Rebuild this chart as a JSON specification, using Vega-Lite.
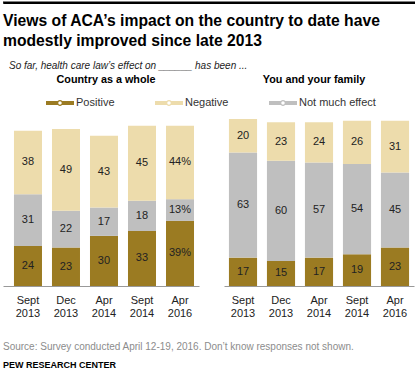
{
  "$schema": "https://vega.github.io/schema/vega-lite/v6.json",
  "padding": {"left": 2, "top": 1, "right": 0, "bottom": 0},
  "background": "white",
  "config": {"view": {"stroke": null}, "font": "Liberation Sans"},
  "datasets": {
    "d": [
      {"panel": "country", "date": "Sept 2013", "cat": "Positive", "o": 1, "value": 24, "label": "24"},
      {"panel": "country", "date": "Sept 2013", "cat": "Not much effect", "o": 2, "value": 31, "label": "31"},
      {"panel": "country", "date": "Sept 2013", "cat": "Negative", "o": 3, "value": 38, "label": "38"},
      {"panel": "country", "date": "Dec 2013", "cat": "Positive", "o": 1, "value": 23, "label": "23"},
      {"panel": "country", "date": "Dec 2013", "cat": "Not much effect", "o": 2, "value": 22, "label": "22"},
      {"panel": "country", "date": "Dec 2013", "cat": "Negative", "o": 3, "value": 49, "label": "49"},
      {"panel": "country", "date": "Apr 2014", "cat": "Positive", "o": 1, "value": 30, "label": "30"},
      {"panel": "country", "date": "Apr 2014", "cat": "Not much effect", "o": 2, "value": 17, "label": "17"},
      {"panel": "country", "date": "Apr 2014", "cat": "Negative", "o": 3, "value": 43, "label": "43"},
      {"panel": "country", "date": "Sept 2014", "cat": "Positive", "o": 1, "value": 33, "label": "33"},
      {"panel": "country", "date": "Sept 2014", "cat": "Not much effect", "o": 2, "value": 18, "label": "18"},
      {"panel": "country", "date": "Sept 2014", "cat": "Negative", "o": 3, "value": 45, "label": "45"},
      {"panel": "country", "date": "Apr 2016", "cat": "Positive", "o": 1, "value": 39, "label": "39%"},
      {"panel": "country", "date": "Apr 2016", "cat": "Not much effect", "o": 2, "value": 13, "label": "13%"},
      {"panel": "country", "date": "Apr 2016", "cat": "Negative", "o": 3, "value": 44, "label": "44%"},
      {"panel": "family", "date": "Sept 2013", "cat": "Positive", "o": 1, "value": 17, "label": "17"},
      {"panel": "family", "date": "Sept 2013", "cat": "Not much effect", "o": 2, "value": 63, "label": "63"},
      {"panel": "family", "date": "Sept 2013", "cat": "Negative", "o": 3, "value": 20, "label": "20"},
      {"panel": "family", "date": "Dec 2013", "cat": "Positive", "o": 1, "value": 15, "label": "15"},
      {"panel": "family", "date": "Dec 2013", "cat": "Not much effect", "o": 2, "value": 60, "label": "60"},
      {"panel": "family", "date": "Dec 2013", "cat": "Negative", "o": 3, "value": 23, "label": "23"},
      {"panel": "family", "date": "Apr 2014", "cat": "Positive", "o": 1, "value": 17, "label": "17"},
      {"panel": "family", "date": "Apr 2014", "cat": "Not much effect", "o": 2, "value": 57, "label": "57"},
      {"panel": "family", "date": "Apr 2014", "cat": "Negative", "o": 3, "value": 24, "label": "24"},
      {"panel": "family", "date": "Sept 2014", "cat": "Positive", "o": 1, "value": 19, "label": "19"},
      {"panel": "family", "date": "Sept 2014", "cat": "Not much effect", "o": 2, "value": 54, "label": "54"},
      {"panel": "family", "date": "Sept 2014", "cat": "Negative", "o": 3, "value": 26, "label": "26"},
      {"panel": "family", "date": "Apr 2016", "cat": "Positive", "o": 1, "value": 23, "label": "23"},
      {"panel": "family", "date": "Apr 2016", "cat": "Not much effect", "o": 2, "value": 45, "label": "45"},
      {"panel": "family", "date": "Apr 2016", "cat": "Negative", "o": 3, "value": 31, "label": "31"}
    ]
  },
  "spacing": 15,
  "vconcat": [
    {
      "spacing": 8,
      "vconcat": [
        {
          "width": 413, "height": 1,
          "view": {"stroke": "#000", "strokeWidth": 1},
          "data": {"values": [{"edge": "top"}]},
          "mark": {"type": "rule", "color": "#000", "strokeWidth": 1},
          "encoding": {
            "y": {"datum": 1, "type": "quantitative", "scale": {"domain": [0, 1]}, "axis": null}
          }
        },
        {
          "title": {
            "text": ["Views of ACA’s impact on the country to date have", "modestly improved since late 2013"],
            "anchor": "start", "fontSize": 15.7, "fontWeight": "bold", "lineHeight": 20, "color": "#000",
            "font": "Liberation Sans", "offset": 12
          },
          "vconcat": [
            {
              "title": {
                "text": "So far, health care law’s effect on ______ has been ...",
                "anchor": "start", "dx": 6, "fontSize": 10, "fontStyle": "italic", "fontWeight": "normal", "color": "#222", "offset": 3
              },
              "vconcat": [
                {
                  "title": {
                    "text": "Source: Survey conducted April 12-19, 2016. Don’t know responses not shown.",
                    "subtitle": "PEW RESEARCH CENTER",
                    "orient": "bottom", "anchor": "start",
                    "fontSize": 10, "fontWeight": "normal", "color": "#8c8c8c",
                    "subtitleFontSize": 9, "subtitleFontWeight": "bold", "subtitleColor": "#000",
                    "offset": 23.5, "subtitlePadding": 9
                  },
                  "spacing": 25,
                  "hconcat": [
                    {
                      "width": 196, "height": 167,
                      "title": {"text": "Country as a whole", "fontSize": 10.8, "fontWeight": "bold", "color": "#000", "offset": 34, "anchor": "middle", "dx": 5},
                      "data": {"name": "d"},
                      "transform": [{"filter": "datum.panel == 'country'"}],
                      "encoding": {
                        "x": {
                          "field": "date", "type": "nominal",
                          "sort": ["Sept 2013", "Dec 2013", "Apr 2014", "Sept 2014", "Apr 2016"],
                          "scale": {"paddingInner": 0.263, "paddingOuter": 0.21, "align": 0.6875},
                          "axis": {"title": null, "labelExpr": "split(datum.label, ' ')", "labelAngle": 0, "ticks": false, "tickSize": 0, "domainColor": "#999", "labelFontSize": 11, "labelColor": "#222", "labelPadding": 8, "labelLineHeight": 13.5}
                        }
                      },
                      "layer": [
                        {
                          "mark": {"type": "bar"},
                          "encoding": {
                            "y": {"field": "value", "type": "quantitative", "stack": "zero", "scale": {"domain": [0, 100], "nice": false}, "axis": null},
                            "color": {
                              "field": "cat", "type": "nominal",
                              "scale": {"domain": ["Positive", "Negative", "Not much effect"], "range": ["#9b7b22", "#eddcac", "#bfbfbf"]},
                              "legend": {"title": null, "orient": "none", "legendX": 43, "legendY": 87, "direction": "horizontal",
                                "symbolType": "M-1,-0.14L-0.15,-0.14L-0.15,0.14L-1,0.14Z M0.15,-0.14L1,-0.14L1,0.14L0.15,0.14Z M-0.21,0A0.21,0.21 0 1,1 0.21,0A0.21,0.21 0 1,1 -0.21,0Z M-0.12,0A0.12,0.12 0 1,0 0.12,0A0.12,0.12 0 1,0 -0.12,0Z",
                                "symbolSize": 784, "symbolStrokeWidth": 0, "symbolOpacity": 1, "labelFontSize": 11, "labelColor": "#333", "labelOffset": 2, "columnPadding": 40}
                            },
                            "order": {"field": "o"}
                          }
                        },
                        {
                          "mark": {"type": "text", "fontSize": 11, "color": "#222"},
                          "encoding": {
                            "y": {"field": "value", "type": "quantitative", "stack": "zero", "bandPosition": 0.5},
                            "detail": {"field": "cat"},
                            "order": {"field": "o"},
                            "text": {"field": "label"}
                          }
                        }
                      ]
                    },
                    {
                      "width": 190, "height": 167,
                      "title": {"text": "You and your family", "fontSize": 10.8, "fontWeight": "bold", "color": "#000", "offset": 34, "anchor": "middle", "dx": -5},
                      "data": {"name": "d"},
                      "transform": [{"filter": "datum.panel == 'family'"}],
                      "encoding": {
                        "x": {
                          "field": "date", "type": "nominal",
                          "sort": ["Sept 2013", "Dec 2013", "Apr 2014", "Sept 2014", "Apr 2016"],
                          "scale": {"paddingInner": 0.26, "paddingOuter": 0.13},
                          "axis": {"title": null, "labelExpr": "split(datum.label, ' ')", "labelAngle": 0, "ticks": false, "tickSize": 0, "domainColor": "#999", "labelFontSize": 11, "labelColor": "#222", "labelPadding": 8, "labelLineHeight": 13.5}
                        }
                      },
                      "layer": [
                        {
                          "mark": {"type": "bar"},
                          "encoding": {
                            "y": {"field": "value", "type": "quantitative", "stack": "zero", "scale": {"domain": [0, 100], "nice": false}, "axis": null},
                            "color": {
                              "field": "cat", "type": "nominal",
                              "scale": {"domain": ["Positive", "Negative", "Not much effect"], "range": ["#9b7b22", "#eddcac", "#bfbfbf"]},
                              "legend": {"title": null, "orient": "none", "legendX": 43, "legendY": 87, "direction": "horizontal",
                                "symbolType": "M-1,-0.14L-0.15,-0.14L-0.15,0.14L-1,0.14Z M0.15,-0.14L1,-0.14L1,0.14L0.15,0.14Z M-0.21,0A0.21,0.21 0 1,1 0.21,0A0.21,0.21 0 1,1 -0.21,0Z M-0.12,0A0.12,0.12 0 1,0 0.12,0A0.12,0.12 0 1,0 -0.12,0Z",
                                "symbolSize": 784, "symbolStrokeWidth": 0, "symbolOpacity": 1, "labelFontSize": 11, "labelColor": "#333", "labelOffset": 2, "columnPadding": 40}
                            },
                            "order": {"field": "o"}
                          }
                        },
                        {
                          "mark": {"type": "text", "fontSize": 11, "color": "#222"},
                          "encoding": {
                            "y": {"field": "value", "type": "quantitative", "stack": "zero", "bandPosition": 0.5},
                            "detail": {"field": "cat"},
                            "order": {"field": "o"},
                            "text": {"field": "label"}
                          }
                        }
                      ]
                    }
                  ]
                }
              ]
            }
          ]
        }
      ]
    },
    {
      "width": 413, "height": 1,
      "view": {"stroke": "#000", "strokeWidth": 1},
      "data": {"values": [{"edge": "bottom"}]},
      "mark": {"type": "rule", "color": "#000", "strokeWidth": 1},
      "encoding": {
        "y": {"datum": 0, "type": "quantitative", "scale": {"domain": [0, 1]}, "axis": null}
      }
    }
  ],
  "resolve": {"scale": {"x": "independent", "y": "independent"}}
}
